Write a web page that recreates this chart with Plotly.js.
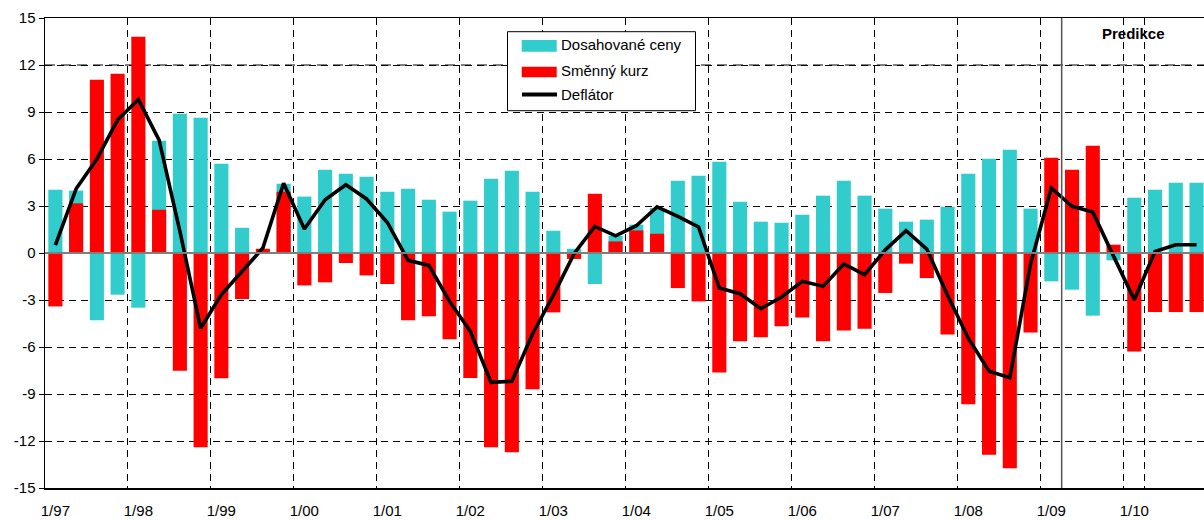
<!DOCTYPE html>
<html><head><meta charset="utf-8">
<script src="https://cdn.plot.ly/plotly-3.0.1.min.js"></script>
<style>html,body{margin:0;padding:0;background:#fff}#chart{width:1204px;height:520px}</style>
</head><body><div id="chart"></div>
<script>
// ---- data ----
const quarters = [
 "1/97","2/97","3/97","4/97","1/98","2/98","3/98","4/98",
 "1/99","2/99","3/99","4/99","1/00","2/00","3/00","4/00",
 "1/01","2/01","3/01","4/01","1/02","2/02","3/02","4/02",
 "1/03","2/03","3/03","4/03","1/04","2/04","3/04","4/04",
 "1/05","2/05","3/05","4/05","1/06","2/06","3/06","4/06",
 "1/07","2/07","3/07","4/07","1/08","2/08","3/08","4/08",
 "1/09","2/09","3/09","4/09","1/10","2/10","3/10","4/10"];
const yearLabels = ["1/97","1/98","1/99","1/00","1/01","1/02","1/03","1/04","1/05","1/06","1/07","1/08","1/09","1/10"];
const dosahovaneCeny = [
 4.04, 3.98, -4.30, -2.66, -3.49, 7.17, 8.89, 8.63,
 5.70, 1.61, 0.00, 4.42, 3.60, 5.32, 5.06, 4.87,
 3.91, 4.10, 3.40, 2.64, 3.34, 4.74, 5.25, 3.91,
 1.42, 0.27, -1.98, 1.10, 1.81, 2.87, 4.61, 4.93,
 5.83, 3.27, 2.00, 1.93, 2.44, 3.66, 4.61, 3.66,
 2.83, 2.00, 2.13, 2.95, 5.06, 6.02, 6.59, 2.83,
 -1.81, -2.34, -4.00, -0.47, 3.53, 4.04, 4.49, 4.49];
const smennyKurz = [
 -3.41, 3.17, 11.06, 11.44, 13.80, 2.76, -7.51, -12.40,
 -8.00, -2.94, 0.27, 3.91, -2.07, -1.87, -0.64, -1.43,
 -1.98, -4.30, -4.04, -5.51, -7.98, -12.40, -12.72, -8.70,
 -3.79, -0.38, 3.78, 0.74, 1.44, 1.23, -2.24, -3.09,
 -7.62, -5.64, -5.38, -4.68, -4.11, -5.64, -4.94, -4.83,
 -2.55, -0.68, -1.60, -5.21, -9.66, -12.87, -13.74, -5.07,
 6.08, 5.32, 6.85, 0.53, -6.28, -3.77, -3.77, -3.77];
const deflator = [
 0.50, 4.10, 6.00, 8.50, 9.80, 7.20, 1.40, -4.80,
 -2.66, -1.15, 0.32, 4.45, 1.53, 3.40, 4.36, 3.45,
 1.95, -0.47, -0.79, -3.09, -5.00, -8.26, -8.19, -5.15,
 -2.70, -0.05, 1.70, 1.10, 1.74, 2.94, 2.34, 1.66,
 -2.24, -2.60, -3.55, -2.81, -1.81, -2.13, -0.70, -1.38,
 0.20, 1.42, 0.25, -2.70, -5.44, -7.55, -7.96, -0.70,
 4.15, 2.98, 2.61, -0.20, -2.98, 0.10, 0.53, 0.53];
const seriesNames = ["Dosahované ceny", "Směnný kurz", "Deflátor"];
const yTickVals = [-15,-12,-9,-6,-3,0,3,6,9,12,15];
const yTickText = ["-15","-12","-9","-6","-3","0","3","6","9","12","15"];
const forecastStart = "2/09";
const forecastLabel = "Predikce";

// ---- layout helpers ----
const W = 1204, H = 520, ML = 45, MR = 0, MT = 18, MB = 32;
const PW = W - ML - MR, PH = H - MT - MB;
const px = x => (x - ML) / PW;          // pixel -> paper x
const py = y => (H - MB - y) / PH;      // pixel -> paper y
const FONT = "Liberation Sans, Arial, sans-serif";
const CYAN = "#33CCCC", RED = "#FF0000";

const traces = [
 {type:"bar", name:seriesNames[0], x:quarters, y:dosahovaneCeny, marker:{color:CYAN, line:{width:0}}, width:0.68, showlegend:false},
 {type:"bar", name:seriesNames[1], x:quarters, y:smennyKurz, marker:{color:RED, line:{width:0}}, width:0.68, showlegend:false},
 {type:"scatter", mode:"lines", name:seriesNames[2], x:quarters, y:deflator, line:{color:"#000", width:3.6}, showlegend:false}
];

const fIdx = quarters.indexOf(forecastStart) - 0.5;

const shapes = [
 {type:"line", xref:"paper", yref:"y", x0:0, x1:1, y0:12, y1:12, layer:"below", line:{color:"#808080", width:2, dash:"10px,6px"}},
 {type:"line", xref:"paper", yref:"y", x0:0, x1:1, y0:0, y1:0, layer:"above", line:{color:"#7f7f7f", width:2}},
 {type:"line", xref:"x", yref:"paper", x0:fIdx, x1:fIdx, y0:0, y1:1, line:{color:"#555", width:1.5}},
 {type:"rect", xref:"paper", yref:"paper", x0:px(507.5), x1:px(695.5), y0:py(110.7), y1:py(31.7), fillcolor:"#fff", line:{color:"#000", width:1}},
 {type:"rect", xref:"paper", yref:"paper", x0:px(521.7), x1:px(556.7), y0:py(51.7), y1:py(40), fillcolor:CYAN, line:{width:0}},
 {type:"rect", xref:"paper", yref:"paper", x0:px(521.7), x1:px(556.7), y0:py(77.3), y1:py(66.7), fillcolor:RED, line:{width:0}},
 {type:"line", xref:"paper", yref:"paper", x0:px(522), x1:px(557), y0:py(94.5), y1:py(94.5), line:{color:"#000", width:4}}
];

const annotations = [
 {xref:"paper", yref:"paper", x:px(559), y:py(44.5), xanchor:"left", yanchor:"middle", text:seriesNames[0], showarrow:false, font:{family:FONT, size:15, color:"#000"}},
 {xref:"paper", yref:"paper", x:px(559), y:py(70), xanchor:"left", yanchor:"middle", text:seriesNames[1], showarrow:false, font:{family:FONT, size:15, color:"#000"}},
 {xref:"paper", yref:"paper", x:px(559), y:py(94), xanchor:"left", yanchor:"middle", text:seriesNames[2], showarrow:false, font:{family:FONT, size:15, color:"#000"}},
 {xref:"paper", yref:"paper", x:px(1133), y:py(33), xanchor:"center", yanchor:"middle", text:"<b>"+forecastLabel+"</b>", showarrow:false, font:{family:FONT, size:15, color:"#000"}}
];

const layout = {
 width:W, height:H,
 margin:{l:ML, r:MR, t:MT, b:MB, pad:0},
 paper_bgcolor:"#fff", plot_bgcolor:"#fff",
 barmode:"overlay",
 showlegend:false,
 font:{family:FONT, size:15, color:"#000"},
 xaxis:{
  type:"category", range:[-0.5, 55.36],
  tickmode:"array", tickvals:yearLabels, ticktext:yearLabels,
  tickson:"boundaries", ticks:"", tickangle:0, automargin:false,
  showgrid:true, gridcolor:"#000", gridwidth:1, griddash:"7px,5px",
  showline:true, linecolor:"#000", linewidth:1.5, mirror:true,
  zeroline:false, tickfont:{family:FONT, size:15, color:"#000"},
  ticklabelstandoff:8, fixedrange:true
 },
 yaxis:{
  range:[-15,15], tickmode:"array", tickvals:yTickVals, ticktext:yTickText,
  ticks:"outside", ticklen:5, tickcolor:"#000", tickwidth:1,
  showgrid:true, gridcolor:"#000", gridwidth:1, griddash:"7px,5px",
  showline:true, linecolor:"#000", linewidth:1.5, mirror:false,
  zeroline:false, tickfont:{family:FONT, size:15, color:"#000"}, fixedrange:true, automargin:false
 },
 shapes:shapes, annotations:annotations
};

Plotly.newPlot("chart", traces, layout, {displayModeBar:false, staticPlot:true});
</script>
</body></html>
